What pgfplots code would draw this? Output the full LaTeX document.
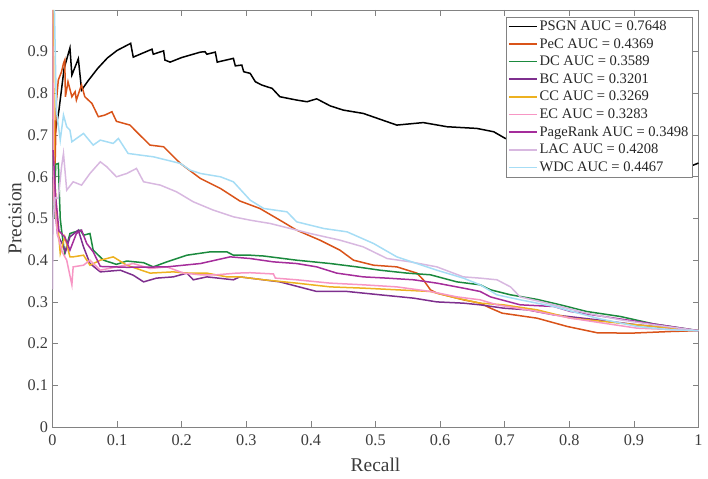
\documentclass[border=0pt]{standalone}
\usepackage{fontspec}
\setmainfont{Liberation Serif}
\usepackage{pgfplots}
\pgfplotsset{compat=1.18}

\definecolor{axgray}{RGB}{130,130,130}
\definecolor{txtgray}{RGB}{60,60,60}
\definecolor{cPeC}{RGB}{217,83,25}
\definecolor{cDC}{RGB}{27,138,62}
\definecolor{cBC}{RGB}{126,47,142}
\definecolor{cCC}{RGB}{237,177,32}
\definecolor{cEC}{RGB}{247,150,196}
\definecolor{cPR}{RGB}{165,45,155}
\definecolor{cLAC}{RGB}{216,184,224}
\definecolor{cWDC}{RGB}{166,221,245}

\begin{document}
\begin{tikzpicture}
\begin{axis}[
    scale only axis,
    width=646bp, height=417bp,
    xmin=0, xmax=1, ymin=0, ymax=1,
    xtick={0,0.1,...,1.0},
    ytick={0,0.1,...,0.9},
    tick align=inside,
    major tick length=6bp,
    axis line style={axgray, line width=0.6bp},
    every tick/.style={axgray, line width=0.6bp},
    tick label style={font=\fontsize{16.3}{19}\selectfont, text=txtgray},
    /pgf/number format/assume math mode=true,
    xticklabel style={yshift=-4bp},
    yticklabel style={xshift=-1bp},
    xlabel={Recall}, ylabel={Precision},
    label style={font=\fontsize{19.5}{22}\selectfont, text=txtgray},
    xlabel style={at={(axis description cs:0.5,-0.091)}, anchor=center},
    ylabel style={at={(axis description cs:-0.058,0.5)}, anchor=center},
    legend style={at={(0.991,0.984)}, anchor=north east, draw=axgray, line width=0.6bp,
        font=\fontsize{14.6}{16}\selectfont, text=black!85, row sep=2.4bp,
        inner xsep=2bp, inner ysep=2bp},
    legend cell align=left,
    legend image code/.code={\draw[#1, line width=1.5bp] (0bp,0bp) -- (28bp,0bp);},
    every axis plot/.append style={line width=1.5bp},
    clip=true,
]
\coordinate (LL) at (rel axis cs:0,0);
\coordinate (UR) at (rel axis cs:1,1);

\addplot[black] coordinates {
(0.002,0.60) (0.004,0.705) (0.010,0.76) (0.018,0.86) (0.027,0.909) (0.030,0.844)
(0.040,0.883) (0.045,0.808) (0.055,0.83) (0.07,0.86) (0.085,0.885) (0.10,0.903)
(0.121,0.920) (0.125,0.887) (0.154,0.906) (0.156,0.894) (0.172,0.902) (0.174,0.880)
(0.182,0.875) (0.20,0.886) (0.229,0.899) (0.236,0.900) (0.239,0.894) (0.252,0.899)
(0.255,0.875) (0.280,0.884) (0.283,0.866) (0.293,0.868) (0.296,0.852) (0.306,0.848)
(0.314,0.828) (0.324,0.820) (0.340,0.812) (0.352,0.792) (0.378,0.784) (0.394,0.780)
(0.409,0.787) (0.430,0.770) (0.450,0.760) (0.481,0.752) (0.507,0.738) (0.533,0.724)
(0.574,0.730) (0.611,0.720) (0.657,0.716) (0.683,0.708) (0.701,0.692) (0.75,0.68)
(0.85,0.66) (0.95,0.64) (0.992,0.628) (1,0.633)
};
\addlegendentry{PSGN AUC = 0.7648}

\addplot[cPeC] coordinates {
(0.003,0.55) (0.006,0.78) (0.009,0.832) (0.014,0.852) (0.017,0.872) (0.019,0.880)
(0.020,0.792) (0.024,0.828) (0.030,0.792) (0.035,0.804) (0.037,0.784) (0.043,0.812)
(0.045,0.820) (0.050,0.792) (0.061,0.776) (0.071,0.744) (0.081,0.748) (0.092,0.756)
(0.099,0.733) (0.120,0.724) (0.130,0.708) (0.151,0.676) (0.172,0.672) (0.198,0.632)
(0.229,0.596) (0.260,0.572) (0.290,0.542) (0.321,0.524) (0.352,0.496) (0.378,0.472)
(0.414,0.448) (0.445,0.424) (0.466,0.400) (0.497,0.388) (0.533,0.384) (0.564,0.369)
(0.574,0.353) (0.585,0.329) (0.595,0.321) (0.636,0.305) (0.662,0.297) (0.678,0.285)
(0.696,0.273) (0.750,0.261) (0.797,0.241) (0.843,0.226) (0.895,0.225) (0.957,0.229)
(1,0.231)
};
\addlegendentry{PeC AUC = 0.4369}

\addplot[cDC] coordinates {
(0.002,0.50) (0.005,0.63) (0.009,0.632) (0.012,0.50) (0.014,0.472) (0.019,0.416)
(0.027,0.464) (0.043,0.472) (0.048,0.460) (0.058,0.464) (0.063,0.424) (0.079,0.400)
(0.099,0.390) (0.115,0.398) (0.141,0.394) (0.156,0.384) (0.177,0.396) (0.208,0.412)
(0.244,0.420) (0.270,0.420) (0.280,0.412) (0.306,0.412) (0.327,0.410) (0.378,0.400)
(0.430,0.392) (0.471,0.384) (0.507,0.376) (0.549,0.369) (0.585,0.365) (0.626,0.348)
(0.662,0.341) (0.678,0.329) (0.709,0.317) (0.750,0.306) (0.786,0.293) (0.827,0.277)
(0.879,0.265) (0.931,0.247) (1,0.231)
};
\addlegendentry{DC AUC = 0.3589}

\addplot[cBC] coordinates {
(0.001,0.60) (0.004,0.52) (0.008,0.46) (0.015,0.44) (0.020,0.42) (0.027,0.456)
(0.040,0.472) (0.048,0.432) (0.058,0.392) (0.074,0.372) (0.105,0.376) (0.125,0.364)
(0.141,0.348) (0.161,0.357) (0.187,0.360) (0.208,0.369) (0.218,0.353) (0.239,0.360)
(0.280,0.353) (0.290,0.360) (0.352,0.348) (0.409,0.325) (0.456,0.325) (0.507,0.317)
(0.559,0.309) (0.595,0.300) (0.636,0.297) (0.662,0.293) (0.698,0.285) (0.735,0.281)
(0.776,0.269) (0.843,0.257) (0.905,0.245) (1,0.231)
};
\addlegendentry{BC AUC = 0.3201}

\addplot[cCC] coordinates {
(0.001,1.0) (0.003,0.60) (0.006,0.528) (0.012,0.416) (0.019,0.456) (0.027,0.408)
(0.032,0.408) (0.048,0.412) (0.058,0.388) (0.074,0.400) (0.094,0.408) (0.115,0.388)
(0.151,0.369) (0.187,0.372) (0.208,0.369) (0.239,0.369) (0.270,0.360) (0.290,0.360)
(0.327,0.353) (0.378,0.345) (0.430,0.336) (0.481,0.333) (0.533,0.329) (0.585,0.325)
(0.626,0.309) (0.662,0.297) (0.698,0.293) (0.750,0.281) (0.802,0.261) (0.853,0.253)
(0.905,0.245) (1,0.231)
};
\addlegendentry{CC AUC = 0.3269}

\addplot[cEC] coordinates {
(0.0,1.0) (0.002,0.55) (0.008,0.46) (0.015,0.42) (0.022,0.40) (0.030,0.341)
(0.032,0.384) (0.048,0.388) (0.058,0.400) (0.074,0.376) (0.099,0.384) (0.125,0.392)
(0.151,0.380) (0.177,0.384) (0.203,0.369) (0.229,0.365) (0.254,0.365) (0.285,0.369)
(0.306,0.370) (0.342,0.367) (0.345,0.357) (0.378,0.353) (0.430,0.345) (0.481,0.341)
(0.533,0.336) (0.585,0.325) (0.626,0.312) (0.662,0.305) (0.688,0.293) (0.750,0.277)
(0.802,0.261) (0.853,0.249) (0.905,0.237) (1,0.231)
};
\addlegendentry{EC AUC = 0.3283}

\addplot[cPR] coordinates {
(0.001,0.664) (0.005,0.55) (0.010,0.47) (0.019,0.456) (0.027,0.424) (0.037,0.464)
(0.045,0.472) (0.053,0.440) (0.063,0.420) (0.074,0.385) (0.115,0.383) (0.177,0.384)
(0.229,0.392) (0.275,0.408) (0.306,0.404) (0.342,0.396) (0.378,0.392) (0.409,0.384)
(0.440,0.369) (0.481,0.360) (0.518,0.357) (0.559,0.353) (0.595,0.345) (0.636,0.333)
(0.662,0.325) (0.678,0.312) (0.724,0.293) (0.776,0.289) (0.802,0.277) (0.853,0.265)
(0.905,0.253) (0.957,0.241) (1,0.231)
};
\addlegendentry{PageRank AUC = 0.3498}

\addplot[cLAC] coordinates {
(0,0.33) (0.001,0.50) (0.004,0.55) (0.009,0.548) (0.014,0.624) (0.017,0.656)
(0.022,0.568) (0.032,0.588) (0.045,0.580) (0.058,0.608) (0.074,0.636) (0.084,0.624)
(0.099,0.600) (0.115,0.608) (0.130,0.620) (0.141,0.588) (0.167,0.580) (0.192,0.564)
(0.218,0.540) (0.249,0.520) (0.280,0.504) (0.306,0.496) (0.337,0.488) (0.368,0.476)
(0.399,0.464) (0.445,0.448) (0.481,0.432) (0.518,0.404) (0.554,0.396) (0.595,0.384)
(0.636,0.360) (0.662,0.357) (0.688,0.353) (0.709,0.336) (0.724,0.312) (0.776,0.293)
(0.827,0.273) (0.879,0.257) (0.931,0.245) (1,0.231)
};
\addlegendentry{LAC AUC = 0.4208}

\addplot[cWDC] coordinates {
(0.003,1.0) (0.006,0.76) (0.012,0.688) (0.017,0.748) (0.022,0.720) (0.027,0.712)
(0.030,0.684) (0.048,0.704) (0.063,0.676) (0.074,0.688) (0.094,0.680) (0.102,0.692)
(0.117,0.656) (0.136,0.652) (0.156,0.648) (0.177,0.640) (0.198,0.632) (0.213,0.616)
(0.229,0.608) (0.260,0.600) (0.280,0.588) (0.306,0.544) (0.327,0.524) (0.363,0.516)
(0.378,0.492) (0.420,0.476) (0.456,0.468) (0.497,0.440) (0.533,0.408) (0.564,0.392)
(0.595,0.376) (0.636,0.357) (0.662,0.341) (0.688,0.317) (0.724,0.305) (0.776,0.289)
(0.843,0.261) (0.905,0.241) (0.957,0.233) (1,0.231)
};
\addlegendentry{WDC AUC = 0.4467}
\end{axis}
\path ([shift={(-52.5bp,-52bp)}]LL) ([shift={(9.5bp,10bp)}]UR);
\end{tikzpicture}
\end{document}
